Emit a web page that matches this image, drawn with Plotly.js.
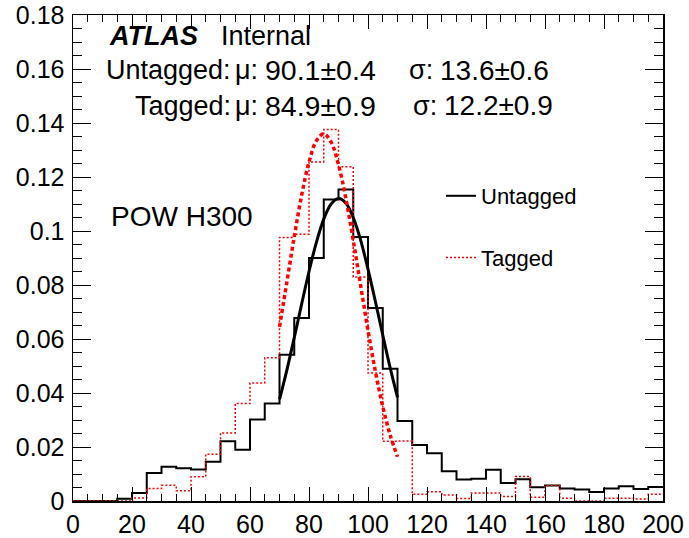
<!DOCTYPE html>
<html>
<head>
<meta charset="utf-8">
<script src="https://cdn.plot.ly/plotly-3.0.1.min.js"></script>
<style>html,body{margin:0;padding:0;background:#fff;}</style>
</head>
<body>
<div id="chart" style="width:689px;height:538px;"></div>
<script>
// ---- data ----
const binEdges = [0,5,10,15,20,25,30,35,40,45,50,55,60,65,70,75,80,85,90,95,100,
  105,110,115,120,125,130,135,140,145,150,155,160,165,170,175,180,185,190,195,200];

const untaggedCounts = [0,0,0,0.0008,0.003,0.0104,0.0127,0.0121,0.0117,0.0145,
  0.0221,0.019,0.0302,0.0361,0.0542,0.0678,0.090,0.1117,0.1154,0.0978,
  0.0715,0.049,0.0296,0.0207,0.0177,0.011,0.008,0.0082,0.0116,0.0067,
  0.0081,0.0051,0.0057,0.0046,0.0043,0.0033,0.0046,0.0055,0.0044,0.0052];

const taggedCounts = [0,0,0,0,0.0011,0.0046,0.0058,0.0038,0.009,0.0173,
  0.0252,0.0361,0.0437,0.0531,0.0976,0.0988,0.1256,0.1376,0.1238,0.083,
  0.0474,0.0221,0.0222,0.0025,0.0034,0.0022,0.0009,0.003,0.003,0.0017,
  0.0091,0.0014,0.0057,0.001,0,0,0.001,0.001,0.0007,0.0025];

const fitX = [70,72.5,75,77.5,80,82.5,85,87.5,90,92.5,95,97.5,100,102.5,105,107.5,110];
const untaggedFit = [0.0376,0.0485,0.0605,0.0729,0.0850,0.0958,0.1044,0.1100,0.1120,
  0.1103,0.1050,0.0966,0.0859,0.0739,0.0615,0.0494,0.0384];
const taggedFit = [0.0645,0.0811,0.0979,0.1132,0.1255,0.1334,0.1360,0.1329,0.1246,
  0.1120,0.0965,0.0798,0.0632,0.0480,0.0350,0.0245,0.0164];

const yTickVals = [0,0.02,0.04,0.06,0.08,0.1,0.12,0.14,0.16,0.18];
const yTickText = ["0","0.02","0.04","0.06","0.08","0.1","0.12","0.14","0.16","0.18"];
const xTickVals = [0,20,40,60,80,100,120,140,160,180,200];
const xTickText = ["0","20","40","60","80","100","120","140","160","180","200"];

const seriesNames = ["Untagged","Tagged"];
const fitLabels = ["Untagged:", "Tagged:"];
const muValues = ["90.1\u00b10.4", "84.9\u00b10.9"];
const sigmaValues = ["13.6\u00b10.6", "12.2\u00b10.9"];

// ---- traces ----
function stepY(vals){ return vals.concat([vals[vals.length-1]]); }

const traces = [
  {x: binEdges, y: stepY(untaggedCounts), type:'scatter', mode:'lines',
   line:{shape:'hv', color:'#000000', width:2}, name: seriesNames[0],
   legendgroup:'a', hoverinfo:'skip'},
  {x: binEdges, y: stepY(taggedCounts), type:'scatter', mode:'lines',
   line:{shape:'hv', color:'#ff0000', width:1.5, dash:'2px,2px'}, name: seriesNames[1],
   legendgroup:'b', hoverinfo:'skip'},
  {x: fitX, y: untaggedFit, type:'scatter', mode:'lines',
   line:{shape:'spline', color:'#000000', width:3}, showlegend:false, hoverinfo:'skip'},
  {x: fitX, y: taggedFit, type:'scatter', mode:'lines',
   line:{shape:'spline', color:'#ff0000', width:3.5, dash:'4px,3px'}, showlegend:false, hoverinfo:'skip'}
];

const FONT = 'Liberation Sans, Arial, Helvetica, sans-serif';
const L = 73, R = 663, T = 15, B = 501;
const px = v => (v - L) / (R - L);
const py = v => (B - v) / (B - T);

function ann(text, xpx, ypx, anchor, size){
  return {text: text, xref:'paper', yref:'paper', x: px(xpx), y: py(ypx),
    xanchor: anchor, yanchor:'middle', showarrow:false, borderpad:0,
    font:{family:FONT, size:size, color:'#000'}};
}

const S = 27;
const annotations = [
  ann('<b><i>ATLAS</i></b>', 108, 36, 'left', S),
  ann('Internal', 220, 36, 'left', S),
  ann(fitLabels[0], 232, 70.5, 'right', S),
  ann('\u03bc:', 234, 70.5, 'left', S),
  ann(muValues[0], 264, 70.5, 'left', S+1.5),
  ann('\u03c3:', 408, 70.5, 'left', S),
  ann(sigmaValues[0], 439, 70.5, 'left', S+1),
  ann(fitLabels[1], 232, 106, 'right', S),
  ann('\u03bc:', 234, 106, 'left', S),
  ann(muValues[1], 264, 106, 'left', S+1.5),
  ann('\u03c3:', 412, 106, 'left', S),
  ann(sigmaValues[1], 443, 106, 'left', S+1),
  ann('POW H300', 110, 216.5, 'left', S+1)
];

const axisCommon = {
  showgrid:false, zeroline:false, showline:true, linecolor:'#000', linewidth:1.5,
  mirror:'allticks', ticks:'inside', tickcolor:'#000', tickwidth:1,
  tickfont:{family:FONT, size:25, color:'#000'}, fixedrange:true
};

const layout = {
  width:689, height:538,
  margin:{l:L, r:689-R, t:T, b:538-B, pad:0},
  paper_bgcolor:'#fff', plot_bgcolor:'#fff',
  font:{family:FONT, color:'#000'},
  showlegend:true,
  legend:{x: px(441), y: py(175), xanchor:'left', yanchor:'top',
    bgcolor:'rgba(0,0,0,0)', borderwidth:0, font:{family:FONT, size:22, color:'#000'},
    traceorder:'grouped', tracegroupgap:30, itemwidth:30},
  xaxis: Object.assign({}, axisCommon, {range:[0,200], tickmode:'array',
    tickvals:xTickVals, ticktext:xTickText, ticklen:14,
    minor:{tickmode:'linear', tick0:0, dtick:5, ticks:'inside', ticklen:7, tickcolor:'#000', tickwidth:1, showgrid:false}}),
  yaxis: Object.assign({}, axisCommon, {range:[0,0.18], tickmode:'array',
    tickvals:yTickVals, ticktext:yTickText, ticklen:18, ticklabelstandoff:2,
    minor:{tickmode:'linear', tick0:0, dtick:0.005, ticks:'inside', ticklen:9, tickcolor:'#000', tickwidth:1, showgrid:false}}),
  annotations: annotations
};

Plotly.newPlot('chart', traces, layout, {staticPlot:true, displayModeBar:false});
</script>
</body>
</html>
